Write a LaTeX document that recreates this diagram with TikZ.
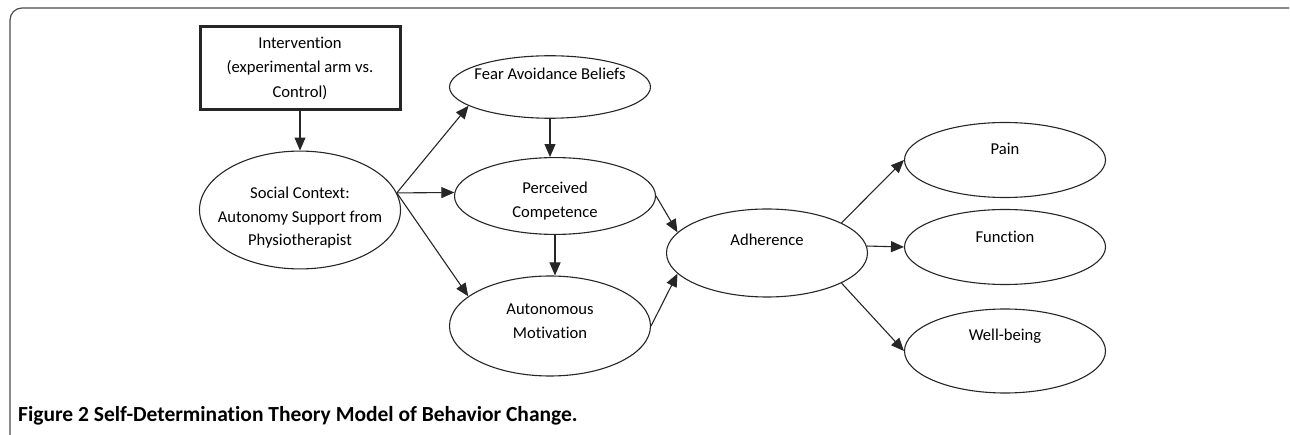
\documentclass[tikz,border=0pt]{standalone}
\usepackage{fontspec}
\setmainfont[Ligatures=NoCommon]{Carlito}
\usepackage{tikz}
\usetikzlibrary{shapes.geometric, arrows.meta}
\tikzstyle{factor} = [ellipse, draw=black!85, line width=1.1pt, minimum width=201pt, inner xsep=-25pt, align=center, font=\fontsize{16.6}{23.5}\selectfont]
\tikzstyle{treat} = [rectangle, draw=black!85, line width=3pt, minimum width=200pt, minimum height=83pt, align=center, font=\fontsize{16.6}{24.5}\selectfont]
\tikzstyle{arrow} = [line width=1.1pt, draw=black!85, -{Triangle[length=13pt,width=11pt]}]
\tikzset{lift/.style={text depth=#1}, drop/.style={text height=#1}}

\begin{document}
\begin{tikzpicture}[x=1pt,y=-1pt]
    \useasboundingbox (0,0) rectangle (1290,435);

    % Frame and caption
    \draw [line width=1.2pt, black!70, rounded corners=12pt] (10,436) -- (10,8) -- (1289,8);
    \node (caption) [anchor=base west, inner sep=0pt, font=\fontsize{21.5}{23}\selectfont\bfseries] at (18,421) {Figure 2 Self-Determination Theory Model of Behavior Change.};

    % Nodes
    \node (intervention) [treat] at (300,68) {Intervention\\(experimental arm vs.\\Control)};
    \node (social) [factor, minimum height=100pt, drop=74pt] at (300,210) {Social Context:\\Autonomy Support from\\Physiotherapist};
    \node (fear) [factor, minimum height=60pt, lift=26pt] at (550,87) {Fear Avoidance Beliefs};
    \node (perceived) [factor, minimum height=74pt, drop=45pt] at (555,196) {Perceived\\Competence};
    \node (autonomous) [factor, minimum height=100pt, lift=10pt] at (550,326) {Autonomous\\Motivation};
    \node (adherence) [factor, minimum height=88pt, lift=26pt] at (767,253) {Adherence};
    \node (pain) [factor, minimum height=75pt, lift=22pt] at (1005,160) {Pain};
    \node (function) [factor, minimum height=75pt, lift=21pt] at (1005,247) {Function};
    \node (wellbeing) [factor, minimum height=84pt, lift=32pt] at (1005,351) {Well-being};

    % Arrows
    \draw [arrow] (intervention) -- (social);
    \draw [arrow] (social.10) -- (fear.193);
    \draw [arrow] (social.10) -- (perceived.178);
    \draw [arrow] (social.10) -- (autonomous.160);
    \draw [arrow] (fear.south) -- (fear.south |- perceived.north);
    \draw [arrow] (perceived.south) -- (perceived.south |- autonomous.north);
    \draw [arrow] (perceived.east) -- (adherence.167);
    \draw [arrow] (autonomous.east) -- (adherence.193);
    \draw [arrow] (adherence.22) -- (pain.west);
    \draw [arrow] (adherence.4) -- (function.west);
    \draw [arrow] (adherence.338) -- (wellbeing.west);

\end{tikzpicture}
\end{document}
